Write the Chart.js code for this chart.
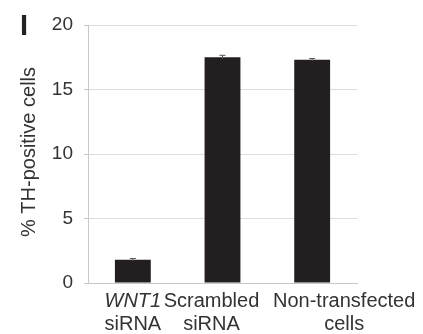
<!DOCTYPE html>
<html>
<head>
<meta charset="utf-8">
<script src="https://cdn.jsdelivr.net/npm/chart.js@4/dist/chart.umd.min.js"></script>
<style>
  html, body { margin: 0; padding: 0; background: #fff; }
  #wrap { width: 423px; height: 334px; position: relative; }
</style>
</head>
<body>
<div id="wrap"><canvas id="c" width="423" height="334"></canvas></div>
<script>
// Conditions (two-line labels; first line of the first group is a gene name, set in italics)
const categories = ['WNT1 siRNA', 'Scrambled siRNA', 'Non-transfected cells'];
const labelLine1 = ['WNT1', 'Scrambled', 'Non-transfected'];
const labelLine2 = ['siRNA', 'siRNA', 'cells'];
const line1Italic = [true, false, false];

// Percentage of TH-positive cells and standard error
const thPositive = [1.8, 17.5, 17.3];
const thError = [0.1, 0.15, 0.1];

// Y-axis ticks
const yTicks = [0, 5, 10, 15, 20];

const TEXT = '#333333';
const FONT = '"Liberation Sans", Arial, sans-serif';

// Labels sit slightly off their bar centres so the long names do not collide
const labelShift = [0, -11, 32];

const annotations = {
  id: 'annotations',
  afterDatasetsDraw(chart) {
    const ctx = chart.ctx;
    const x = chart.scales.x, y = chart.scales.y;
    ctx.save();
    // error bars
    ctx.strokeStyle = '#555';
    ctx.lineWidth = 1;
    thPositive.forEach((v, i) => {
      const cx = x.getPixelForValue(i);
      const top = y.getPixelForValue(v + thError[i]);
      const bot = y.getPixelForValue(v - thError[i]);
      ctx.beginPath();
      ctx.moveTo(cx, top); ctx.lineTo(cx, bot);
      ctx.moveTo(cx - 3, top); ctx.lineTo(cx + 3, top);
      ctx.stroke();
    });
    // category labels
    ctx.fillStyle = TEXT;
    ctx.textAlign = 'center';
    ctx.textBaseline = 'middle';
    const base = chart.chartArea.bottom;
    categories.forEach((c, i) => {
      const cx = x.getPixelForValue(i) + labelShift[i];
      ctx.font = (line1Italic[i] ? 'italic ' : '') + '20px ' + FONT;
      ctx.fillText(labelLine1[i], cx, base + 18);
      ctx.font = '20px ' + FONT;
      ctx.fillText(labelLine2[i], cx, base + 41);
    });
    // axis title
    ctx.save();
    ctx.translate(29, 152);
    ctx.rotate(-Math.PI / 2);
    ctx.font = '20px ' + FONT;
    ctx.fillText('% TH-positive cells', 0, 0);
    ctx.restore();
    // panel letter
    ctx.font = 'bold 29px ' + FONT;
    ctx.textAlign = 'left';
    ctx.textBaseline = 'alphabetic';
    ctx.fillStyle = '#222';
    ctx.fillText('I', 20, 35);
    ctx.restore();
  }
};

new Chart(document.getElementById('c'), {
  type: 'bar',
  data: {
    labels: categories,
    datasets: [{
      data: thPositive,
      backgroundColor: '#231f20',
      borderWidth: 0,
      categoryPercentage: 1.0,
      barPercentage: 0.4
    }]
  },
  options: {
    responsive: false,
    animation: false,
    layout: { padding: { left: 0, right: 66, top: 25, bottom: 0 } },
    plugins: { legend: { display: false }, tooltip: { enabled: false } },
    scales: {
      x: {
        offset: true,
        grid: { display: false },
        border: { color: '#c8c8c8', width: 1 },
        ticks: { display: false },
        afterFit(scale) { scale.height = 51; }
      },
      y: {
        min: 0, max: 20,
        afterBuildTicks(scale) { scale.ticks = yTicks.map(v => ({ value: v })); },
        grid: { color: '#dcdcdc', tickLength: 4, tickColor: '#c8c8c8' },
        border: { color: '#c8c8c8', width: 1 },
        ticks: { color: TEXT, font: { family: FONT, size: 19 }, padding: 11 },
        afterFit(scale) { scale.width = 88; }
      }
    }
  },
  plugins: [annotations]
});
</script>
</body>
</html>
